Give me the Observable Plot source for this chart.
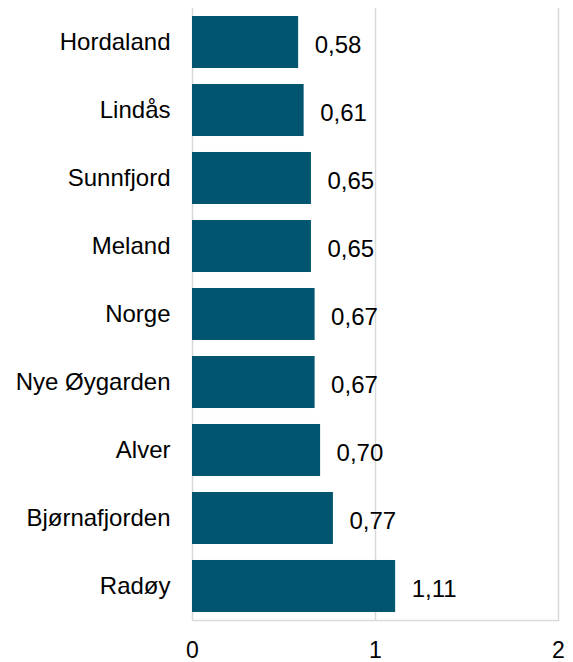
<!DOCTYPE html>
<html>
<head>
<meta charset="utf-8">
<script src="https://cdn.jsdelivr.net/npm/d3@7"></script>
<script src="https://cdn.jsdelivr.net/npm/@observablehq/plot@0.6"></script>
<style>
  html, body { margin: 0; padding: 0; background: #fff; }
  svg { display: block; }
</style>
</head>
<body>
<div id="chart"></div>
<script>
const categories = ["Hordaland", "Lindås", "Sunnfjord", "Meland", "Norge", "Nye Øygarden", "Alver", "Bjørnafjorden", "Radøy"];
const values = [0.58, 0.61, 0.65, 0.65, 0.67, 0.67, 0.70, 0.77, 1.11];
const xTicks = [0, 1, 2];

const data = categories.map((c, i) => ({category: c, value: values[i]}));
const fmt = v => d3.format(".2f")(v).replace(".", ",");
const font = "'Liberation Sans', Arial, sans-serif";

const chart = Plot.plot({
  width: 573,
  height: 662,
  marginTop: 8,
  marginBottom: 42,
  marginLeft: 192,
  marginRight: 15,
  style: {fontFamily: font, fontSize: "24px", color: "#000", background: "#fff"},
  x: {domain: [0, 2], ticks: xTicks},
  y: {domain: categories, paddingInner: 0.235, paddingOuter: 0.1176, round: false},
  marks: [
    Plot.ruleX(xTicks, {stroke: "#d9d9d9", strokeWidth: 1.5, strokeOpacity: 1}),
    Plot.frame({anchor: "bottom", stroke: "#d9d9d9", strokeWidth: 1.5, strokeOpacity: 1}),
    Plot.barX(data, {x: "value", y: "category", fill: "#02556f"}),
    Plot.text(data, {x: "value", y: "category", text: d => fmt(d.value), textAnchor: "start", dx: 16, dy: 3, fontSize: 24, fill: "#000"}),
    Plot.axisY({tickSize: 0, tickPadding: 22, fontSize: 24, label: null}),
    Plot.axisX({ticks: xTicks, tickSize: 0, tickPadding: 21, fontSize: 23, label: null, tickFormat: d => String(d)})
  ]
});
document.getElementById("chart").appendChild(chart);
</script>
</body>
</html>
